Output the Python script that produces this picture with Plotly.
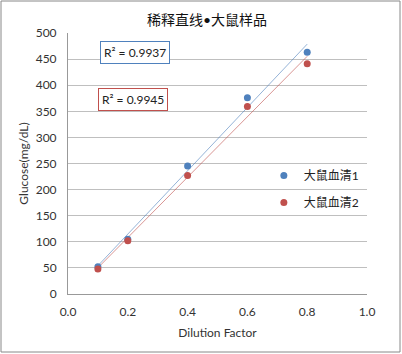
import numpy as np
import plotly.graph_objects as go

dilution = [0.1, 0.2, 0.4, 0.6, 0.8]
serum1 = [52, 105, 245, 376, 463]
serum2 = [48, 102, 227, 359, 441]
names = ["大鼠血清1", "大鼠血清2"]
r2_labels = ["R² = 0.9937", "R² = 0.9945"]
colors = ["#4F81BD", "#C0504D"]
line_colors = ["rgba(79,129,189,0.6)", "rgba(192,80,77,0.6)"]

FONT = "Lato, 'Noto Sans CJK SC', sans-serif"
fig = go.Figure()
for i, ys in enumerate([serum1, serum2]):
    k, b = np.polyfit(dilution, ys, 1)
    xs = [min(dilution), max(dilution)]
    fig.add_trace(go.Scatter(x=xs, y=[k * x + b for x in xs], mode="lines",
                             line=dict(color=line_colors[i], width=1), showlegend=False,
                             hoverinfo="skip"))
for i, ys in enumerate([serum1, serum2]):
    fig.add_trace(go.Scatter(x=dilution, y=ys, mode="markers", name=names[i],
                             marker=dict(color=colors[i], size=7), legendgroup=str(i)))

ann_pos = [(0.224, 463.6), (0.219, 372.6)]
for i, lab in enumerate(r2_labels):
    fig.add_annotation(x=ann_pos[i][0], y=ann_pos[i][1], text=lab, showarrow=False,
                       bordercolor=colors[i], borderwidth=1, borderpad=3, bgcolor="white",
                       font=dict(family=FONT, size=12, color="#222"))

fig.update_layout(
    width=402, height=354,
    margin=dict(l=68, r=35, t=33, b=60),
    paper_bgcolor="white", plot_bgcolor="white",
    font=dict(family=FONT, size=12, color="#333"),
    title=dict(text="稀释直线•大鼠样品", x=207 / 402, xref="container", xanchor="center",
               y=1 - 20 / 354, yref="container", yanchor="middle",
               font=dict(family=FONT, size=14, color="#111")),
    legend=dict(x=0.655, y=0.51, xanchor="left", yanchor="top", bgcolor="rgba(0,0,0,0)",
                font=dict(family=FONT, size=12, color="#222"), tracegroupgap=8),
    xaxis=dict(range=[0, 1], dtick=0.2, tickformat=".1f", showgrid=False,
               showline=True, linecolor="#999", linewidth=1, zeroline=False,
               ticks="", ticklabelstandoff=7,
               title=dict(text="Dilution Factor", standoff=10, font=dict(size=12, color="#333"))),
    yaxis=dict(range=[0, 500], dtick=50, showgrid=True, gridcolor="#BFBFBF", gridwidth=1,
               showline=True, linecolor="#999", linewidth=1, zeroline=False,
               ticks="", ticklabelstandoff=8,
               title=dict(text="Glucose(mg/dL)", standoff=4, font=dict(size=12, color="#333"))),
    shapes=[dict(type="rect", xref="paper", yref="paper",
                 x0=(1 - 68) / 299, x1=(400 - 68) / 299,
                 y0=(294 - 352) / 261, y1=(294 - 1) / 261,
                 line=dict(color="#888", width=1), fillcolor="rgba(0,0,0,0)", layer="below")],
)
fig.write_html("out.html")
